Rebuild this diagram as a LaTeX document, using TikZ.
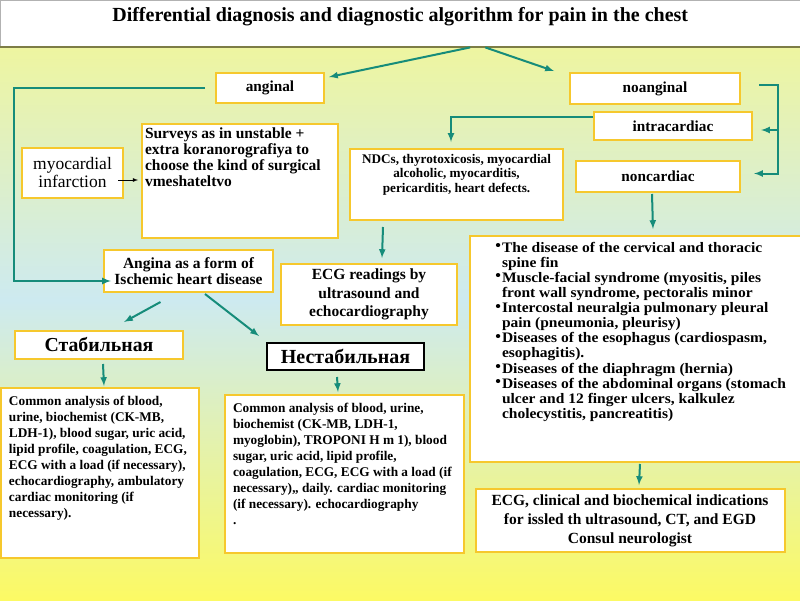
\documentclass[tikz,border=0pt]{standalone}
\usepackage{fontspec}
\setmainfont{Liberation Serif}
\newfontfamily\widefont[FakeStretch=1.07]{Liberation Serif}
\usetikzlibrary{arrows,calc}
\definecolor{boxyellow}{RGB}{246,200,45}
\definecolor{linkteal}{RGB}{22,140,122}
\definecolor{bgtop}{RGB}{238,245,160}
\definecolor{bgmid}{RGB}{205,234,240}
\definecolor{bglow}{RGB}{238,246,160}
\definecolor{bgbot}{RGB}{252,250,100}
\definecolor{titleline}{RGB}{125,125,70}
\begin{document}
\begin{tikzpicture}
		[x=1pt, y=-1pt, font=\bfseries,
		box/.style = {draw=boxyellow, line width=2pt, fill=white, inner sep=0pt},
		label/.style = {font=\bfseries\fontsize{15.3}{17}\selectfont},
		link/.style = {draw=linkteal, line width=2pt, -latex}]
	\useasboundingbox (0,0) rectangle (800,600);
	% background
	\fill[top color=bgtop, bottom color=bgmid] (0,47) rectangle (800,300);
	\fill[top color=bgmid, middle color=bglow, bottom color=bgbot] (0,300) rectangle (800,600);
	% title
	\node[draw=gray!60, fill=white, inner sep=0pt, anchor=north west] (title) at (0,0)
		{\parbox[t][47pt][t]{800pt}{\centering\fontsize{20}{22}\selectfont\vspace*{7pt}Differential diagnosis and diagnostic algorithm for pain in the chest}};
	\draw[titleline, line width=2pt] (title.south west) -- (title.south east);
	% upper level
	\node[box, label, minimum width=108pt, minimum height=30pt] (anginal) at (270,88) {anginal};
	\node[box, label, minimum width=170pt, minimum height=31pt] (noanginal) at (655,88.5) {noanginal};
	\node[box, label, minimum width=158pt, minimum height=28pt] (intracardiac) at (673,126) {intracardiac};
	\node[box, label, minimum width=164pt, minimum height=31pt] (noncardiac) at (658,176.5) {noncardiac};
	\node[box, minimum width=101pt, minimum height=50pt, align=center, font=\mdseries\fontsize{17.5}{18}\selectfont] (myo) at (72.5,173) {myocardial\\infarction};
	\node[box, anchor=north west] (surveys) at (141,123)
		{\parbox[t][114pt][t]{196pt}{\fontsize{15.5}{16}\selectfont\raggedright\leftskip=3pt\vspace*{4pt}Surveys as in unstable +\\ extra koranorografiya to\\ choose the kind of surgical\\ vmeshateltvo}};
	\node[box, anchor=north west] (ndcs) at (349,148)
		{\parbox[t][71pt][t]{213pt}{\fontsize{13.2}{14.5}\selectfont\centering\vspace*{5pt}NDCs, thyrotoxicosis, myocardial\\ alcoholic, myocarditis,\\ pericarditis, heart defects.}};
	% angina branch
	\node[box, minimum width=169pt, minimum height=42pt, align=center, font=\bfseries\fontsize{15.5}{16}\selectfont] (angina) at (188.5,271) {Angina as a form of\\Ischemic heart disease};
	\node[box, minimum width=176pt, minimum height=61pt, align=center, font=\bfseries\fontsize{15.5}{18.5}\selectfont] (echo) at (369,294.5) {ECG readings by\\ultrasound and\\echocardiography};
	\node[box, minimum width=168pt, minimum height=28pt, font=\bfseries\fontsize{19.8}{21}\selectfont] (stab) at (99,345) {Стабильная};
	\node[box, draw=black, minimum width=157pt, minimum height=27pt, font=\bfseries\fontsize{20}{21}\selectfont] (nestab) at (345.5,356.5) {Нестабильная};
	\node[box, anchor=north west] (stabtests) at (0,387)
		{\parbox[t][170pt][t]{198pt}{\fontsize{13.3}{16}\selectfont\raggedright\leftskip=8pt\vspace*{8pt}Common analysis of blood,\\ urine, biochemist (CK-MB,\\ LDH-1), blood sugar, uric acid,\\ lipid profile, coagulation, ECG,\\ ECG with a load (if necessary),\\ echocardiography, ambulatory\\ cardiac monitoring (if\\ necessary).}};
	\node[box, anchor=north west] (nestabtests) at (224,394)
		{\parbox[t][158pt][t]{239pt}{\fontsize{13.3}{16}\selectfont\raggedright\leftskip=8pt\vspace*{8pt}Common analysis of blood, urine,\\ biochemist (CK-MB, LDH-1,\\ myoglobin), TROPONI H m 1), blood\\ sugar, uric acid, lipid profile,\\ coagulation, ECG, ECG with a load (if\\ necessary),, daily. cardiac monitoring\\ (if necessary). echocardiography\\ .}};
	% noncardiac branch
	\node[box, anchor=north west] (noncardlist) at (469,235)
		{\parbox[t][226pt][t]{331pt}{\widefont\bfseries\fontsize{14.5}{15.1}\selectfont\raggedright\leftskip=32pt\vspace*{6pt}%
		\leavevmode\llap{\raisebox{1.5pt}{\fontsize{15}{15}\selectfont\textbullet}\hspace{1pt}}The disease of the cervical and thoracic\\ spine fin\par
		\leavevmode\llap{\raisebox{1.5pt}{\fontsize{15}{15}\selectfont\textbullet}\hspace{1pt}}Muscle-facial syndrome (myositis, piles\\ front wall syndrome, pectoralis minor\par
		\leavevmode\llap{\raisebox{1.5pt}{\fontsize{15}{15}\selectfont\textbullet}\hspace{1pt}}Intercostal neuralgia pulmonary pleural\\ pain (pneumonia, pleurisy)\par
		\leavevmode\llap{\raisebox{1.5pt}{\fontsize{15}{15}\selectfont\textbullet}\hspace{1pt}}Diseases of the esophagus (cardiospasm,\\ esophagitis).\par
		\leavevmode\llap{\raisebox{1.5pt}{\fontsize{15}{15}\selectfont\textbullet}\hspace{1pt}}Diseases of the diaphragm (hernia)\par
		\leavevmode\llap{\raisebox{1.5pt}{\fontsize{15}{15}\selectfont\textbullet}\hspace{1pt}}Diseases of the abdominal organs (stomach\\ ulcer and 12 finger ulcers, kalkulez\\ cholecystitis, pancreatitis)\par}};
	\node[box, minimum width=309pt, minimum height=63pt, align=center, font=\bfseries\fontsize{15.5}{19}\selectfont] (noncardtests) at (630,520.5) {ECG, clinical and biochemical indications\\for issled th ultrasound, CT, and EGD\\Consul neurologist};
	% connectors
	\draw[link] ($(title.south)+(70,0)$) -- ($(anginal.north east)+(4,5)$);
	\draw[link] ($(title.south)+(85,0)$) -- ($(noanginal.north west)+(-15,-1)$);
	\draw[link] ($(anginal.west)+(-10,0)$) -- ++(-191,0) |- ($(angina.west)+(8,10)$);
	\coordinate (fork) at (778,85);
	\draw[link] ($(noanginal.east)+(18,-3.5)$) -- (fork) |- ($(noncardiac.east)+(13,-3)$);
	\draw[link] ($(fork)+(0,45)$) -- ($(intracardiac.east)+(8,4)$);
	\draw[link] ($(intracardiac.west)+(0,-9)$) -| ($(ndcs.north)+(-5.5,-6)$);
	\draw[link] ($(ndcs.south)+(-73.5,6)$) -- ($(echo.north)+(13,-5)$);
	\draw[link] ($(noncardiac.south)+(-6,1)$) -- ($(noncardlist.north)+(17.5,-6)$);
	\draw[link] ($(noncardlist.south)+(4.5,1)$) -- ($(noncardtests.north)+(9,-3)$);
	\draw[-latex, line width=0.8pt] ($(myo.east)+(-6,7)$) -- ($(myo.east -| surveys.west)+(-3,7)$);
	\draw[link] ($(angina.south)+(-28,9)$) -- ($(stab.north)+(25,-8)$);
	\draw[link] ($(angina.south)+(16.5,1)$) -- ($(nestab.north west)+(-7,-6)$);
	\draw[link] ($(stab.south)+(4,4)$) -- ($(stabtests.north)+(4,-1)$);
	\draw[link] ($(nestab.south)+(-8.5,6)$) -- ($(nestabtests.north)+(-6.5,-2)$);
\end{tikzpicture}
\end{document}
